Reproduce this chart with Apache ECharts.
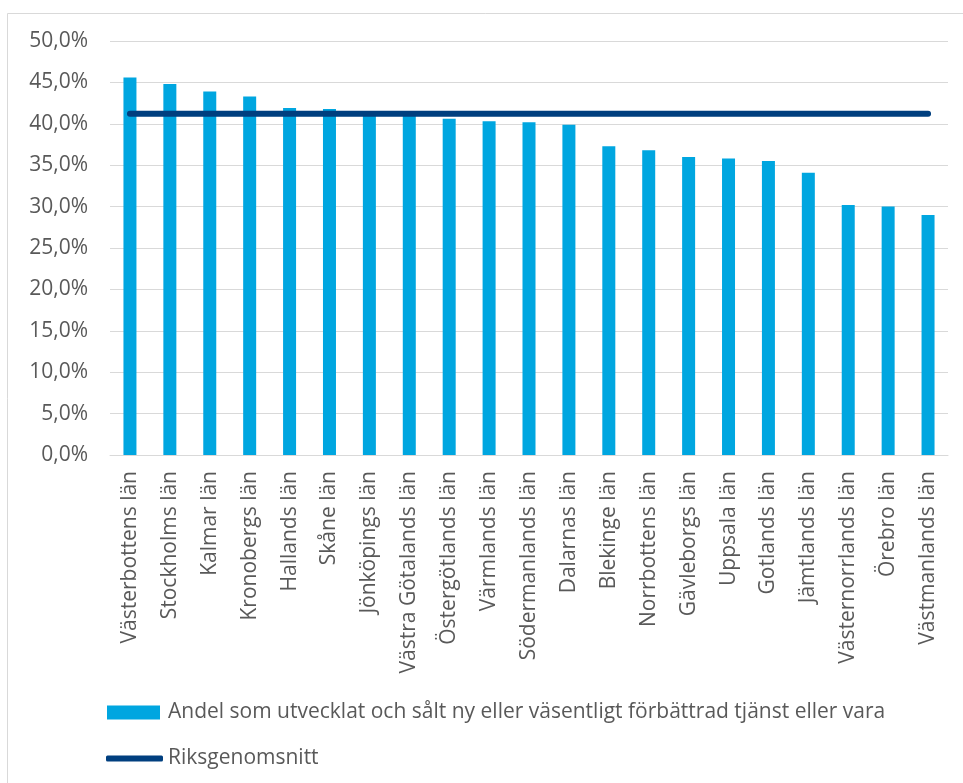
<!DOCTYPE html>
<html>
<head>
<meta charset="utf-8">
<script src="https://cdn.jsdelivr.net/npm/echarts@6/dist/echarts.min.js"></script>
<style>
  html, body { margin: 0; padding: 0; background: #fff; }
  #chart { width: 963px; height: 783px; }
</style>
</head>
<body>
<div id="chart"></div>
<script>
// Län, sorterade efter andel
const lan = [
  'Västerbottens län', 'Stockholms län', 'Kalmar län', 'Kronobergs län',
  'Hallands län', 'Skåne län', 'Jönköpings län', 'Västra Götalands län',
  'Östergötlands län', 'Värmlands län', 'Södermanlands län', 'Dalarnas län',
  'Blekinge län', 'Norrbottens län', 'Gävleborgs län', 'Uppsala län',
  'Gotlands län', 'Jämtlands län', 'Västernorrlands län', 'Örebro län',
  'Västmanlands län'
];
// Andel (%) som utvecklat och sålt ny eller väsentligt förbättrad tjänst eller vara
const andel = [
  45.6, 44.8, 43.9, 43.3, 41.9, 41.8, 41.3, 41.3, 40.6, 40.3, 40.2,
  39.9, 37.3, 36.8, 36.0, 35.8, 35.5, 34.1, 30.2, 30.0, 29.0
];
// Riksgenomsnitt (%)
const riksgenomsnitt = 41.2;
const riksSerie = lan.map(() => riksgenomsnitt);

const barName = 'Andel som utvecklat och sålt ny eller väsentligt förbättrad tjänst eller vara';
const lineName = 'Riksgenomsnitt';
const textColor = '#595959';
const font = 'Open Sans';

const chart = echarts.init(document.getElementById('chart'), null, { renderer: 'canvas' });
chart.setOption({
  backgroundColor: '#ffffff',
  animation: false,
  graphic: [{
    type: 'rect',
    left: 5, top: 11,
    shape: { width: 1000, height: 1000 },
    style: { fill: 'none', stroke: '#D9D9D9', lineWidth: 1 },
    silent: true
  }],
  grid: { left: 110, right: 15, top: 41, bottom: 328 },
  legend: [
    {
      data: [{ name: barName, icon: 'rect' }],
      left: 107, top: 702, padding: 0,
      itemWidth: 53, itemHeight: 14,
      textStyle: { color: textColor, fontFamily: font, fontSize: 21, padding: [0, 0, 0, 3] }
    },
    {
      data: [{ name: lineName, icon: 'roundRect' }],
      left: 106, top: 748, padding: 0,
      itemWidth: 57, itemHeight: 6,
      textStyle: { color: textColor, fontFamily: font, fontSize: 21 }
    }
  ],
  xAxis: {
    type: 'category',
    data: lan,
    boundaryGap: true,
    axisLine: { show: true, lineStyle: { color: '#D9D9D9', width: 1 } },
    axisTick: { show: false },
    axisLabel: {
      rotate: 90, margin: 16, interval: 0,
      color: textColor, fontFamily: font, fontSize: 21
    }
  },
  yAxis: {
    type: 'value',
    min: 0, max: 50, interval: 5,
    axisLine: { show: false },
    axisTick: { show: false },
    splitLine: { show: true, lineStyle: { color: '#D9D9D9', width: 1 } },
    axisLabel: {
      margin: 22, color: textColor, fontFamily: font, fontSize: 21,
      formatter: v => v.toFixed(1).replace('.', ',') + '%'
    }
  },
  series: [
    {
      name: barName,
      type: 'bar',
      data: andel,
      barWidth: 13,
      itemStyle: { color: '#00A6E0' }
    },
    {
      name: lineName,
      type: 'line',
      data: riksSerie,
      symbol: 'none',
      showSymbol: false,
      lineStyle: { color: '#003F7F', width: 6, cap: 'round' },
      itemStyle: { color: '#003F7F' },
      z: 5
    }
  ]
});
</script>
</body>
</html>
